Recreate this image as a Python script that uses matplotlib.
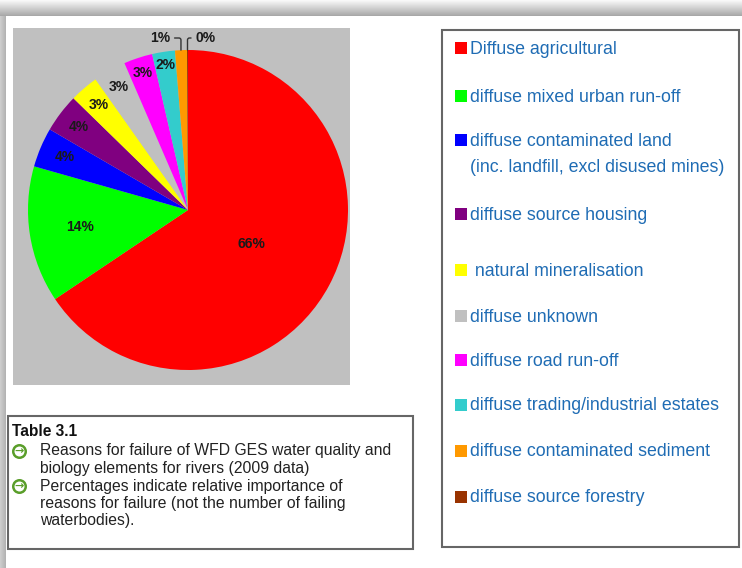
"""
Reasons for failure of WFD GES (rivers, 2009) - pie chart recreation
"""

import numpy as np
import matplotlib
matplotlib.use("Agg")
import matplotlib.pyplot as plt
from matplotlib.patches import Rectangle

plt.rcParams['font.family'] = ['Liberation Sans', 'DejaVu Sans']

# ==================== 数据 ====================
causes = [
    "Diffuse agricultural",
    "diffuse mixed urban run-off",
    "diffuse contaminated land\n(inc. landfill, excl disused mines)",
    "diffuse source housing",
    " natural mineralisation",
    "diffuse unknown",
    "diffuse road run-off",
    "diffuse trading/industrial estates",
    "diffuse contaminated sediment",
    "diffuse source forestry",
]
shares = [65.6, 13.8, 4.0, 3.9, 2.9, 3.3, 2.9, 2.3, 1.2, 0.1]
colours = ["#ff0000", "#00ff00", "#0000ff", "#800080", "#ffff00",
           "#c0c0c0", "#ff00ff", "#33cccc", "#ff9900", "#993300"]

table_title = "Table 3.1"
table_bullets = [
    "Reasons for failure of WFD GES water quality and\nbiology elements for rivers (2009 data)",
    "Percentages indicate relative importance of\nreasons for failure (not the number of failing\nwaterbodies).",
]

# ==================== 版面（像素） ====================
W, H = 742, 568
CX, CY, R = 188, 210, 160
legend_y = [48, 96, 140, 214, 270, 316, 360, 405, 451, 497]
label_dist = [0.45, 0.68, 0.84, 0.86, 0.86, 0.88, 0.90, 0.92]
LEGEND_BLUE = "#1f6cb4"
BULLET_GREEN = "#5a9e2a"

fig = plt.figure(figsize=(W / 100, H / 100), dpi=100)
fig.patch.set_facecolor("white")

bg = fig.add_axes([0, 0, 1, 1])
bg.axis("off")

# 页面阴影
top = np.linspace(0.97, 0.66, 16).reshape(-1, 1)
bg.imshow(top, extent=(0, W, 16, 0), cmap="gray", vmin=0, vmax=1, aspect="auto")
left = np.linspace(0.80, 0.70, 6).reshape(1, -1)
bg.imshow(left, extent=(0, 6, H, 16), cmap="gray", vmin=0, vmax=1, aspect="auto")
bg.set_xlim(0, W)
bg.set_ylim(H, 0)

# 饼图灰色背景
bg.add_patch(Rectangle((13, 28), 337, 357, facecolor="#c0c0c0", edgecolor="none"))

# ==================== 饼图 ====================
ax = fig.add_axes([(CX - R) / W, (H - CY - R) / H, 2 * R / W, 2 * R / H])
wedges, _ = ax.pie(shares, colors=colours, startangle=90, counterclock=False,
                   wedgeprops=dict(linewidth=0))
ax.set_xlim(-1, 1)
ax.set_ylim(-1, 1)
ax.axis("off")

for i, w in enumerate(wedges[:len(label_dist)]):
    mid = np.deg2rad((w.theta1 + w.theta2) / 2)
    d = label_dist[i]
    ax.text(d * np.cos(mid), d * np.sin(mid), f"{shares[i]:.0f}%",
            ha="center", va="center", fontsize=10, fontweight="bold", color="#1a1a1a")

# 1% 和 0% 用引线
for i, (tx, ha) in zip([8, 9], [(-0.11, "right"), (0.045, "left")]):
    w = wedges[i]
    mid = np.deg2rad((w.theta1 + w.theta2) / 2)
    ax.annotate(f"{shares[i]:.0f}%", xy=(np.cos(mid), np.sin(mid)),
                xytext=(tx, 1.075), ha=ha, va="center",
                fontsize=10, fontweight="bold", color="#1a1a1a",
                annotation_clip=False,
                arrowprops=dict(arrowstyle="-", color="#333333", lw=1,
                                shrinkA=1, shrinkB=0,
                                connectionstyle="angle,angleA=0,angleB=90,rad=2"))

# ==================== 图例框 ====================
bg.add_patch(Rectangle((442, 30), 297, 517, facecolor="none", edgecolor="#666666", lw=1.5))
for lab, col, y in zip(causes, colours, legend_y):
    bg.add_patch(Rectangle((455, y - 6), 12, 12, facecolor=col, edgecolor="none"))
    for j, line in enumerate(lab.split("\n")):
        bg.text(470, y + 1 + j * 26, line, ha="left", va="center",
                fontsize=12.8, color=LEGEND_BLUE)

# ==================== 表格说明 ====================
bg.add_patch(Rectangle((8, 416), 405, 133, facecolor="white", edgecolor="#666666", lw=1.5))
bg.text(12, 432, table_title, ha="left", va="center", fontsize=11.2, fontweight="bold",
        color="#111111")
y = 451
for b in table_bullets:
    # 绿色圆圈箭头项目符号
    bg.plot([19], [y], marker="o", markersize=9, markerfacecolor="white",
            markeredgecolor=BULLET_GREEN, markeredgewidth=1.8)
    bg.text(19.5, y, "\u2192", ha="center", va="center", fontsize=8,
            fontweight="bold", color=BULLET_GREEN, family=["DejaVu Sans"])
    for line in b.split("\n"):
        bg.text(40, y, line, ha="left", va="center", fontsize=11.3, color="#222222")
        y += 17.5

plt.savefig("out.png", dpi=100)
plt.close()
